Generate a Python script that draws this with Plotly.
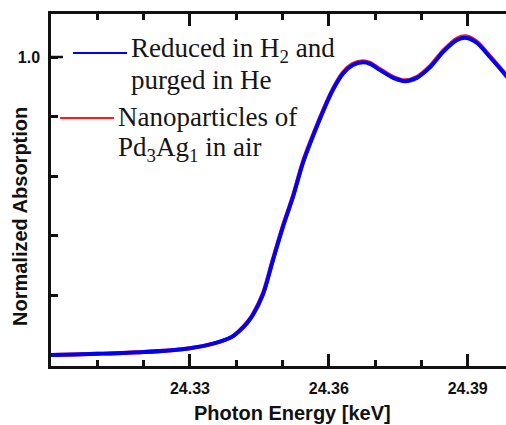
import plotly.graph_objects as go

# ---- data ----
energy_kev = [24.300, 24.305, 24.310, 24.320, 24.330, 24.335, 24.339, 24.3408,
              24.3423, 24.3436, 24.3458, 24.3479, 24.3501, 24.3523, 24.3544, 24.3566,
              24.3587, 24.3609, 24.3631, 24.3652, 24.3674, 24.3689, 24.3711,
              24.3739, 24.3765, 24.3790, 24.3819, 24.3847, 24.3877, 24.3898,
              24.3920, 24.3948, 24.3976, 24.3995]
reduced_h2_he = [0.000, 0.002, 0.004, 0.010, 0.023, 0.038, 0.060, 0.082,
                 0.106, 0.134, 0.204, 0.316, 0.430, 0.532, 0.644, 0.735,
                 0.815, 0.890, 0.945, 0.973, 0.982, 0.977, 0.956,
                 0.930, 0.919, 0.930, 0.966, 1.017, 1.057, 1.064,
                 1.047, 1.000, 0.950, 0.915]
nanoparticles_air = [0.000, 0.002, 0.004, 0.010, 0.023, 0.038, 0.060, 0.083,
                     0.108, 0.137, 0.208, 0.320, 0.434, 0.536, 0.648, 0.739,
                     0.819, 0.894, 0.949, 0.977, 0.986, 0.980, 0.959,
                     0.933, 0.922, 0.933, 0.970, 1.021, 1.062, 1.069,
                     1.051, 1.003, 0.953, 0.918]

series_names = ["Nanoparticles of Pd3Ag1 in air", "Reduced in H2 and purged in He"]
x_tick_vals = [24.33, 24.36, 24.39]
x_tick_text = ["24.33", "24.36", "24.39"]
y_tick_vals = [0.2, 0.4, 0.6, 0.8, 1.0]
y_tick_text = ["", "", "", "", "1.0"]
x_title = "Photon Energy [keV]"
y_title = "Normalized Absorption"
legend_lines = [
    ["Reduced in H<sub>2</sub> and", "purged in He"],
    ["Nanoparticles of", "Pd<sub>3</sub>Ag<sub>1</sub> in air"],
]

W, H = 506, 425
L, R, T, B = 51, 0, 14, 59
pw, ph = W - L - R, H - T - B

def px(xp):
    return (xp - L) / pw

def py(yp):
    return (H - B - yp) / ph

fig = go.Figure()
fig.add_trace(go.Scatter(x=energy_kev, y=nanoparticles_air, mode="lines",
                         name=series_names[0],
                         line=dict(color="#ff1a1a", width=4, shape="spline", smoothing=0.9)))
fig.add_trace(go.Scatter(x=energy_kev, y=reduced_h2_he, mode="lines",
                         name=series_names[1],
                         line=dict(color="#0000f5", width=4, shape="spline", smoothing=0.9)))

axis_font = dict(family="Arial, Liberation Sans, sans-serif", size=16, color="#111", weight="bold")

fig.update_xaxes(range=[24.30, 24.30 + pw / 4630.0], tickvals=x_tick_vals, ticktext=x_tick_text,
                 ticks="inside", ticklen=12, tickwidth=2.5, tickcolor="#111",
                 minor=dict(dtick=0.01, tick0=24.30, ticks="inside", ticklen=6, tickwidth=2.5, tickcolor="#111"),
                 showline=True, linewidth=2.5, linecolor="#111", mirror="ticks",
                 showgrid=False, zeroline=False, tickfont=axis_font,
                 ticklabelstandoff=6)
fig.update_yaxes(range=[-11 / 298.0, 1 + 43 / 298.0], tickvals=y_tick_vals, ticktext=y_tick_text,
                 ticks="inside", ticklen=7, tickwidth=2.5, tickcolor="#111",
                 showline=True, linewidth=2.5, linecolor="#111", mirror=False,
                 showgrid=False, zeroline=False, tickfont=axis_font,
                 ticklabelstandoff=5)

# longer major tick at 1.0
fig.add_shape(type="line", xref="paper", yref="y", x0=0, x1=12 / pw, y0=1.0, y1=1.0,
              line=dict(color="#111", width=2.5))

annots = []
annots.append(dict(text="<b>" + x_title + "</b>", x=px(292), y=py(413), xref="paper", yref="paper",
                   showarrow=False, xanchor="center", yanchor="middle",
                   font=dict(family="Arial, Liberation Sans, sans-serif", size=20, color="#111")))
annots.append(dict(text="<b>" + y_title + "</b>", x=px(20), y=py(217), xref="paper", yref="paper",
                   showarrow=False, xanchor="center", yanchor="middle", textangle=-90,
                   font=dict(family="Arial, Liberation Sans, sans-serif", size=20, color="#111")))

legend_font = dict(family="Liberation Serif, Times New Roman, serif", size=27, color="#151515")
# entry 1 (blue)
fig.add_shape(type="line", xref="paper", yref="paper", x0=px(73), x1=px(127), y0=py(53), y1=py(53),
              line=dict(color="#0000f5", width=2))
annots.append(dict(text=legend_lines[0][0], x=px(129), y=py(50), xref="paper", yref="paper",
                   showarrow=False, xanchor="left", yanchor="middle", font=legend_font))
annots.append(dict(text=legend_lines[0][1], x=px(129), y=py(80), xref="paper", yref="paper",
                   showarrow=False, xanchor="left", yanchor="middle", font=legend_font))
# entry 2 (red)
fig.add_shape(type="line", xref="paper", yref="paper", x0=px(60), x1=px(114), y0=py(118), y1=py(118),
              line=dict(color="#ff1a1a", width=2))
annots.append(dict(text=legend_lines[1][0], x=px(116), y=py(117), xref="paper", yref="paper",
                   showarrow=False, xanchor="left", yanchor="middle", font=legend_font))
annots.append(dict(text=legend_lines[1][1], x=px(116), y=py(149), xref="paper", yref="paper",
                   showarrow=False, xanchor="left", yanchor="middle", font=legend_font))

fig.update_layout(width=W, height=H, margin=dict(l=L, r=R, t=T, b=B, pad=0),
                  paper_bgcolor="white", plot_bgcolor="white", showlegend=False,
                  annotations=annots)

fig.write_html("out.html")
